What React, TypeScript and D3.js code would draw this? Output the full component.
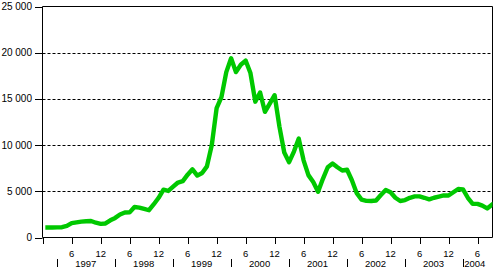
import React from "react";
import * as d3 from "d3";

// Monthly values, Jan 1997 .. Sep 2004 (index 0 = Jan 1997, placed on month 1 after the Dec 1996 tick)
const values: number[] = [
  1090, 1090, 1100, 1110, 1250, 1550, 1640, 1720, 1760, 1790, 1600, 1480,
  1520, 1860, 2120, 2490, 2700, 2720, 3300, 3240, 3100, 2950, 3600, 4300,
  5170, 5040, 5500, 5950, 6100, 6800, 7380, 6700, 6980, 7700, 10000, 14000,
  15200, 17900, 19400, 17900, 18700, 19150, 17800, 14700, 15700, 13600, 14500, 15400,
  12000, 9200, 8150, 9300, 10700, 8350, 6750, 6000, 4950, 6350, 7600, 8000,
  7600, 7250, 7330, 6200, 4800, 4100, 3960, 3950, 4000, 4600, 5150, 4900,
  4300, 3950, 4050, 4300, 4450, 4450, 4300, 4130, 4300, 4420, 4550, 4550,
  4900, 5250, 5200, 4300, 3650, 3640, 3450, 3150, 3550,
];

const yTicks: number[] = [0, 5000, 10000, 15000, 20000, 25000];
const yTickLabels: string[] = ["0", "5 000", "10 000", "15 000", "20 000", "25 000"];
const monthTicks: number[] = [0, 6, 12, 18, 24, 30, 36, 42, 48, 54, 60, 66, 72, 78, 84, 90];
const monthLabels: string[] = ["", "6", "12", "6", "12", "6", "12", "6", "12", "6", "12", "6", "12", "6", "12", "6"];
const years: string[] = ["1997", "1998", "1999", "2000", "2001", "2002", "2003", "2004"];

const W = 495;
const H = 268;
const left = 42.5;
const right = 492.5;
const top = 6.5;
const bottom = 237.5;
const font = "'Liberation Sans', Arial, sans-serif";

export default function App() {
  const x = d3.scaleLinear().domain([0, 93]).range([42.7, 492]);
  const y = d3.scaleLinear().domain([0, 25000]).range([bottom, top]);
  const line = d3
    .line<number>()
    .x((_, i) => x(i + 1))
    .y((d) => y(d))
    .curve(d3.curveLinear);

  const sepOffset = 2.9;
  const seps = years.map((_, k) => sepOffset + 12 * k);

  return (
    <svg
      width={W}
      height={H}
      style={{ position: "absolute", left: 0, top: 0, background: "#fff" }}
      fontFamily={font}
    >
      <defs>
        <clipPath id="plot">
          <rect x={left} y={top} width={right - left} height={bottom - top} />
        </clipPath>
      </defs>
      {yTicks
        .filter((t) => t > 0 && t < 25000)
        .map((t) => (
          <line
            key={"g" + t}
            x1={left}
            x2={right}
            y1={Math.round(y(t)) + 0.5}
            y2={Math.round(y(t)) + 0.5}
            stroke="#000"
            strokeDasharray="3,2"
            strokeWidth={1}
          />
        ))}
      <line x1={left} x2={right} y1={top} y2={top} stroke="#000" />
      <line x1={right} x2={right} y1={top} y2={bottom} stroke="#000" />
      <line x1={left} x2={left} y1={top} y2={bottom} stroke="#000" />
      <line x1={left} x2={right} y1={bottom} y2={bottom} stroke="#000" />
      {yTicks.map((t, i) => (
        <g key={"y" + t}>
          <line
            x1={35}
            x2={left}
            y1={Math.round(y(t)) + 0.5}
            y2={Math.round(y(t)) + 0.5}
            stroke="#000"
          />
          <text x={32} y={y(t) + 3.5} fontSize={10} textAnchor="end" fill="#000">
            {yTickLabels[i]}
          </text>
        </g>
      ))}
      {monthTicks.map((m, i) => (
        <g key={"m" + m}>
          <line
            x1={Math.round(x(m)) + 0.5}
            x2={Math.round(x(m)) + 0.5}
            y1={bottom}
            y2={244}
            stroke="#000"
          />
          <text x={x(m)} y={256.5} fontSize={9.5} textAnchor="middle" fill="#000">
            {monthLabels[i]}
          </text>
        </g>
      ))}
      {seps.map((s, k) => {
        const xs = Math.round(x(s)) + 0.5;
        const next = k < years.length - 1 ? x(s + 12) : 492;
        const cx = k < years.length - 1 ? (x(s) + next) / 2 : (x(s) + next) / 2 - 2.5;
        return (
          <g key={"yr" + k}>
            <line x1={xs} x2={xs} y1={259} y2={267} stroke="#000" />
            <text x={cx} y={267} fontSize={9.5} textAnchor="middle" fill="#000">
              {years[k]}
            </text>
          </g>
        );
      })}
      <path
        d={line(values) || ""}
        fill="none"
        stroke="#00c800"
        strokeWidth={4.4}
        strokeLinejoin="round"
        strokeLinecap="square"
        clipPath="url(#plot)"
      />
    </svg>
  );
}
